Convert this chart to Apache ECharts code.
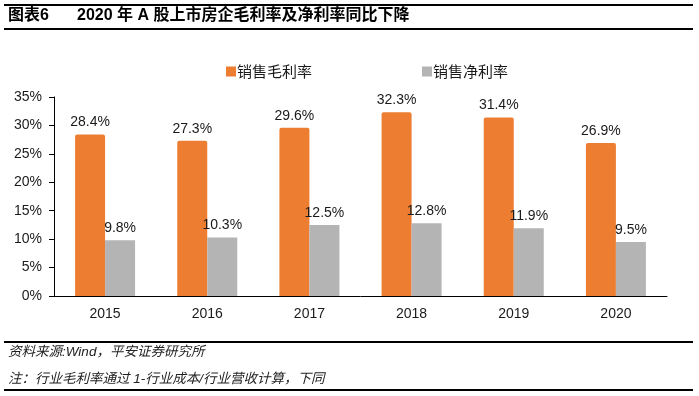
<!DOCTYPE html>
<html><head><meta charset="utf-8">
<script src="https://cdn.jsdelivr.net/npm/echarts@6/dist/echarts.min.js"></script>
<style>html,body{margin:0;padding:0;background:#fff}#c{width:699px;height:396px}</style>
</head><body><div id="c"></div>
<script>
const categories = ['2015','2016','2017','2018','2019','2020'];
const grossMargin = [28.4, 27.3, 29.6, 32.3, 31.4, 26.9];
const netMargin = [9.8, 10.3, 12.5, 12.8, 11.9, 9.5];
const seriesNames = ['销售毛利率', '销售净利率'];
const yTicks = {min: 0, max: 35, interval: 5};

const chart = echarts.init(document.getElementById('c'));
const lbl = {show: true, position: 'top', distance: 5, color: '#1a1a1a', fontSize: 14, fontFamily: 'Liberation Sans, Arial, sans-serif', formatter: p => p.value.toFixed(1) + '%'};
const titleFont = 'bold 16px "Liberation Sans", "Noto Sans CJK SC", sans-serif';
const noteFont = 'italic 13.5px "Liberation Sans", "Noto Sans CJK SC", sans-serif';
chart.setOption({
  animation: false,
  backgroundColor: '#fff',
  graphic: [
    {type: 'rect', shape: {x: 4, y: 4, width: 689, height: 2}, style: {fill: '#000'}},
    {type: 'rect', shape: {x: 4, y: 28, width: 689, height: 2}, style: {fill: '#000'}},
    {type: 'text', left: 8, top: 8, style: {text: '图表6', font: titleFont, fill: '#000'}},
    {type: 'text', left: 77, top: 8, style: {text: '2020 年 A 股上市房企毛利率及净利率同比下降', font: titleFont, fill: '#000'}},
    {type: 'rect', shape: {x: 4, y: 341, width: 689, height: 2}, style: {fill: '#000'}},
    {type: 'rect', shape: {x: 4, y: 389, width: 689, height: 2}, style: {fill: '#000'}},
    {type: 'text', left: 8, top: 345, style: {text: '资料来源:Wind，平安证券研究所', font: noteFont, fill: '#222'}},
    {type: 'text', left: 8, top: 372, style: {text: '注：行业毛利率通过 1-行业成本/行业营收计算，下同', font: noteFont, fill: '#222'}}
  ],
  legend: {
    top: 59, left: 221, itemGap: 110, itemWidth: 10, itemHeight: 10,
    icon: 'rect',
    textStyle: {fontSize: 15, color: '#1a1a1a', fontFamily: '"Noto Sans CJK SC", sans-serif', padding: [0,0,0,-4]},
    data: seriesNames
  },
  grid: {left: 54, right: 32, top: 97, bottom: 100},
  xAxis: {
    type: 'category', data: categories,
    axisLine: {lineStyle: {color: '#000', width: 1}},
    axisTick: {length: 5, lineStyle: {color: '#000'}},
    axisLabel: {color: '#1a1a1a', fontSize: 14, margin: 11, fontFamily: 'Liberation Sans, Arial, sans-serif'}
  },
  yAxis: {
    type: 'value', min: yTicks.min, max: yTicks.max, interval: yTicks.interval,
    splitLine: {show: false},
    axisLine: {show: true, lineStyle: {color: '#000', width: 1}},
    axisTick: {show: true, length: 5, lineStyle: {color: '#000'}},
    axisLabel: {formatter: '{value}%', color: '#1a1a1a', fontSize: 14, margin: 12, fontFamily: 'Liberation Sans, Arial, sans-serif'}
  },
  series: [
    {name: seriesNames[0], type: 'bar', data: grossMargin, barWidth: 30, barGap: '0%', itemStyle: {color: '#ED7D31', borderRadius: [2,2,0,0]}, label: lbl},
    {name: seriesNames[1], type: 'bar', data: netMargin, barWidth: 30, itemStyle: {color: '#B4B4B4'}, label: lbl}
  ]
});
</script></body></html>
